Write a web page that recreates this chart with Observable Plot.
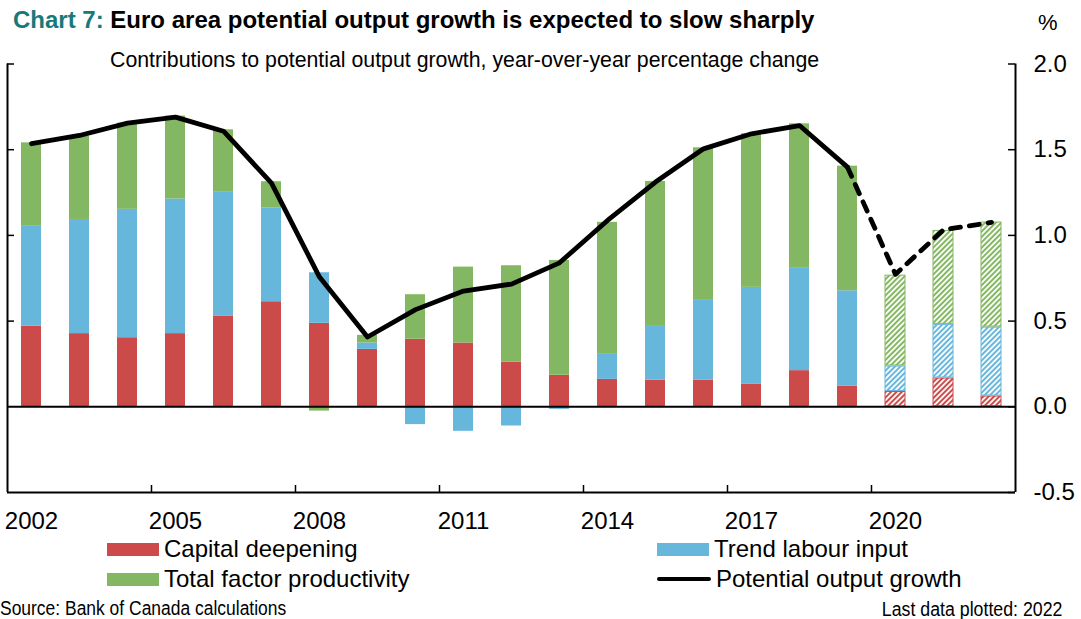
<!DOCTYPE html>
<html><head><meta charset="utf-8">
<script src="https://cdn.jsdelivr.net/npm/d3@7"></script>
<script src="https://cdn.jsdelivr.net/npm/@observablehq/plot@0.6"></script>
<style>
body{margin:0;background:#fff;}
#wrap{position:relative;width:1081px;height:619px;font-family:Arial,"Liberation Sans",sans-serif;overflow:hidden;background:#fff;color:#000;}
#chart{position:absolute;left:0;top:0;}
.t{position:absolute;white-space:nowrap;}
.title{left:13px;top:6px;font-size:24px;font-weight:bold;}
.title .lead{color:#17797a;}
.pct{left:1038px;top:10px;font-size:22px;}
.subtitle{left:110px;top:48px;font-size:21.3px;}
.leg{font-size:24px;display:flex;align-items:center;}
.sw{display:inline-block;width:52px;height:13px;margin-right:5px;}
.swl{display:inline-block;width:54px;height:4px;border-radius:2px;background:#000;margin-right:5px;}
.narrow{font-size:19.5px;}
.src{left:0px;top:597px;transform:scaleX(0.895);transform-origin:left center;}
.last{right:19px;top:598px;transform:scaleX(0.91);transform-origin:right center;}
</style></head><body>
<div id="wrap">
  <div id="chart"></div>
  <div class="t title"><span class="lead">Chart 7:</span> Euro area potential output growth is expected to slow sharply</div>
  <div class="t pct">%</div>
  <div class="t subtitle">Contributions to potential output growth, year-over-year percentage change</div>
  <div class="t leg" style="left:107px;top:535px;"><span class="sw" style="background:#cc4a4a"></span>Capital deepening</div>
  <div class="t leg" style="left:107px;top:565px;"><span class="sw" style="background:#84b761"></span>Total factor productivity</div>
  <div class="t leg" style="left:657px;top:535px;"><span class="sw" style="background:#67b6dc"></span>Trend labour input</div>
  <div class="t leg" style="left:657px;top:565px;"><span class="swl"></span>Potential output growth</div>
  <div class="t narrow src">Source: Bank of Canada calculations</div>
  <div class="t narrow last">Last data plotted: 2022</div>
</div>
<script>
const years = ["2002","2003","2004","2005","2006","2007","2008","2009","2010","2011","2012","2013","2014","2015","2016","2017","2018","2019","2020","2021","2022"];
const capitalDeepening = [0.47,0.427,0.403,0.427,0.53,0.613,0.487,0.335,0.394,0.372,0.26,0.184,0.16,0.155,0.156,0.131,0.211,0.121,0.089,0.168,0.063];
const trendLabourInput = [0.587,0.666,0.749,0.785,0.725,0.546,0.295,0.037,-0.104,-0.143,-0.112,-0.015,0.146,0.314,0.465,0.566,0.601,0.556,0.149,0.313,0.402];
const totalFactorProductivity = [0.483,0.486,0.503,0.484,0.361,0.154,-0.025,0.045,0.26,0.443,0.563,0.67,0.77,0.846,0.89,0.896,0.839,0.727,0.53,0.548,0.613];
const potentialOutputGrowth = [1.535,1.583,1.655,1.69,1.608,1.305,0.757,0.407,0.567,0.675,0.716,0.84,1.087,1.311,1.505,1.593,1.641,1.398,0.773,1.033,1.076];
const firstProjectionYear = 2020;
const seriesNames = ["Capital deepening","Trend labour input","Total factor productivity"];
const seriesColors = ["#cc4a4a","#67b6dc","#84b761"];
const yTicks = [-0.5,0,0.5,1,1.5,2];
const innerYTicks = [0.5,1,1.5,2];
const xLabelYears = ["2002","2005","2008","2011","2014","2017","2020"];
const xTickYears = ["2005","2008","2011","2014","2017","2020"];

const seriesValues = [capitalDeepening, trendLabourInput, totalFactorProductivity];
const rows = years.flatMap((year, i) => seriesValues.map((vals, k) => ({
  year, series: seriesNames[k], value: vals[i], projection: +year >= firstProjectionYear
})));
const lineRows = years.map((year, i) => ({year, value: potentialOutputGrowth[i]}));
const hatchIds = ["hatch-red","hatch-blue","hatch-green"];

const W = 1081, H = 540;
const mL = 7, mR = 66, mT = 63.5, mB = 48;
const frameW = W - mL - mR, frameH = H - mT - mB;
const step = frameW / years.length;

const svg = Plot.plot({
  width: W, height: H,
  marginLeft: mL, marginRight: mR, marginTop: mT, marginBottom: mB,
  style: {fontFamily: "Arial, 'Liberation Sans', sans-serif", background: "transparent", overflow: "visible"},
  x: {type: "band", domain: years, paddingInner: 0.58, paddingOuter: 0.29, axis: null, label: null},
  y: {domain: [-0.5, 2], axis: null, label: null},
  color: {
    domain: seriesNames.concat(seriesNames.map(s => s + " (projection)")),
    range: seriesColors.concat(hatchIds.map(id => `url(#${id})`))
  },
  marks: [
    Plot.barY(rows.filter(d => !d.projection), {x: "year", y: "value", fill: "series"}),
    Plot.barY(rows.filter(d => d.projection), {x: "year", y: "value", fill: d => d.series + " (projection)", stroke: "series", strokeWidth: 1, insetTop: 0.5, insetBottom: 0.5}),
    Plot.ruleY([0], {stroke: "#000", strokeWidth: 2}),
    Plot.ruleY([-0.5], {stroke: "#000", strokeWidth: 2}),
    Plot.ruleX([years[0]], {dx: -step / 2, stroke: "#000", strokeWidth: 2}),
    Plot.ruleX([years[years.length - 1]], {dx: step / 2, stroke: "#000", strokeWidth: 2}),
    Plot.ruleY(innerYTicks, {insetRight: frameW - 7, stroke: "#000", strokeWidth: 1.5}),
    Plot.ruleY(yTicks, {insetLeft: frameW - 7, stroke: "#000", strokeWidth: 1.5}),
    Plot.ruleX(xTickYears, {dx: -step / 2, insetTop: frameH - 7, stroke: "#000", strokeWidth: 1.5}),
    Plot.line(lineRows.filter(d => +d.year < firstProjectionYear), {x: "year", y: "value", stroke: "#000", strokeWidth: 4.8, strokeLinejoin: "round", strokeLinecap: "round"}),
    Plot.line(lineRows.filter(d => +d.year >= firstProjectionYear - 1), {x: "year", y: "value", stroke: "#000", strokeWidth: 4.8, strokeLinejoin: "round", strokeLinecap: "round", strokeDasharray: "10,9"}),
    Plot.axisX(xLabelYears, {anchor: "bottom", tickSize: 0, tickPadding: 19, fontSize: 24, fill: "#000", label: null}),
    Plot.axisY(yTicks, {anchor: "right", tickSize: 0, tickPadding: 18, fontSize: 24, textAnchor: "start", tickFormat: d => d.toFixed(1), fill: "#000", label: null})
  ]
});

const defs = d3.select(svg).insert("defs", ":first-child");
hatchIds.forEach((id, k) => {
  const p = defs.append("pattern").attr("id", id).attr("patternUnits", "userSpaceOnUse")
    .attr("width", 3.8).attr("height", 3.8).attr("patternTransform", "rotate(45)");
  p.append("rect").attr("width", 3.8).attr("height", 3.8).attr("fill", seriesColors[k]);
  p.append("rect").attr("width", 1.8).attr("height", 3.8).attr("fill", "#fff");
});
document.getElementById("chart").appendChild(svg);
</script>
</body></html>
